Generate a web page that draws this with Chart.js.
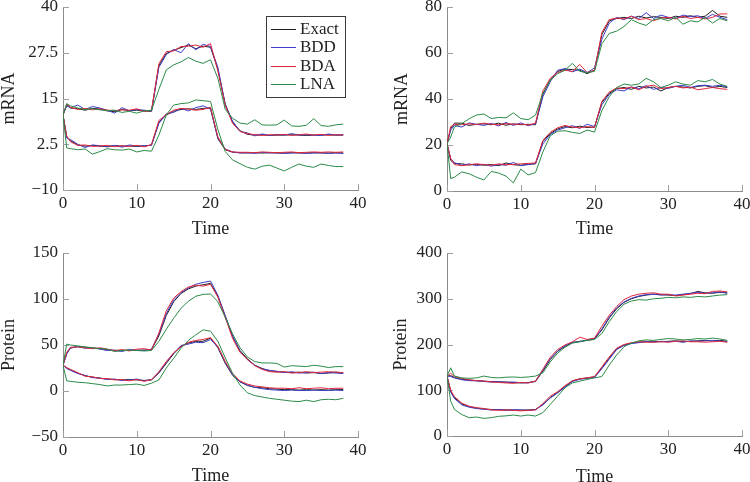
<!DOCTYPE html>
<html>
<head>
<meta charset="utf-8">
<script src="https://cdn.jsdelivr.net/npm/chart.js@4.4.0/dist/chart.umd.min.js"></script>
<style>
  html, body { margin: 0; padding: 0; background: #fff; overflow: hidden; width: 750px; height: 482px; }
  canvas { position: absolute; }
</style>
</head>
<body>
<canvas id="mrnaA" width="375" height="241" style="left:0;top:0;width:375px;height:241px"></canvas>
<canvas id="mrnaB" width="375" height="241" style="left:375px;top:0;width:375px;height:241px"></canvas>
<canvas id="protA" width="375" height="250" style="left:0;top:241px;width:375px;height:250px"></canvas>
<canvas id="protB" width="375" height="250" style="left:375px;top:241px;width:375px;height:250px"></canvas>
<script>
// time grid shared by every series
const time = [0, 0.5, 1, 2, 3, 4, 5, 6, 7, 8, 9, 10, 11, 12, 13, 14, 15, 16, 17, 18,
  19, 20, 21, 22, 23, 24, 25, 26, 27, 28, 29, 30, 31, 32, 33, 34, 35, 36, 37, 38];
const xTicks = [0, 10, 20, 30, 40];
const mrnaTicksA = [-10, 2.5, 15, 27.5, 40];
const mrnaTicksB = [0, 20, 40, 60, 80];
const protTicksA = [-50, 0, 50, 100, 150];
const protTicksB = [0, 100, 200, 300, 400];
const methods = ['Exact', 'BDD', 'BDA', 'LNA'];

// top left: mRNA
const exactHi1 = [10.5, 13.2, 12.4, 12.2, 11.8, 12.3, 12.1, 11.6, 11.4, 12.0,
  11.7, 11.8, 11.6, 11.5, 24.0, 27.3, 28.2, 28.9, 29.6, 28.6,
  29.3, 29.0, 23.0, 13.5, 8.5, 6.2, 5.2, 5.0, 5.1, 4.9,
  5.0, 5.0, 5.1, 5.0, 4.9, 5.0, 5.0, 5.1, 5.0, 5.0];
const bddHi1 = [10.5, 13.0, 12.5, 13.2, 12.0, 12.8, 12.4, 11.8, 11.0, 12.5,
  11.6, 12.0, 11.8, 11.6, 23.5, 27.0, 28.4, 27.5, 30.0, 28.3,
  29.8, 29.2, 23.5, 13.2, 8.8, 6.0, 5.6, 4.8, 5.3, 4.9,
  5.2, 5.0, 5.4, 5.0, 5.1, 5.0, 4.9, 5.3, 5.0, 5.1];
const bdaHi1 = [10.5, 13.5, 12.6, 12.0, 12.3, 11.9, 12.2, 11.8, 11.7, 11.9,
  11.8, 12.2, 11.4, 11.8, 24.5, 27.8, 28.0, 29.2, 29.3, 29.6,
  29.0, 30.0, 22.5, 13.0, 8.2, 6.0, 5.4, 5.1, 4.9, 5.1,
  5.0, 5.2, 4.9, 5.1, 5.3, 5.0, 5.2, 4.9, 5.1, 5.0];
const lnaHi1 = [10.5, 13.6, 13.0, 12.4, 12.0, 12.2, 11.9, 11.7, 11.8, 11.2,
  11.5, 11.0, 11.6, 11.8, 17.5, 22.8, 24.2, 25.0, 26.2, 25.2,
  24.6, 25.6, 20.5, 12.0, 9.6, 8.3, 8.0, 9.2, 7.8, 7.7,
  7.8, 9.1, 7.5, 7.4, 7.7, 9.5, 7.6, 7.4, 7.8, 8.0];
const exactLo1 = [10.5, 4.5, 3.5, 2.3, 2.0, 2.2, 2.0, 1.8, 2.1, 2.0,
  2.0, 1.9, 2.0, 2.3, 8.5, 10.5, 11.5, 12.0, 12.2, 12.0,
  12.3, 12.4, 4.0, 1.0, 0.3, 0.2, 0.1, 0.2, 0.1, 0.2,
  0.1, 0.1, 0.2, 0.1, 0.1, 0.2, 0.1, 0.1, 0.2, 0.1];
const bddLo1 = [10.5, 4.2, 3.8, 2.5, 1.6, 2.3, 2.1, 1.9, 2.2, 1.7,
  2.3, 2.0, 2.1, 2.2, 8.2, 10.8, 11.2, 12.3, 11.6, 12.5,
  13.0, 12.1, 4.3, 1.2, 0.4, 0.1, 0.2, 0.0, 0.3, 0.1,
  0.2, 0.0, 0.1, 0.2, 0.0, 0.1, 0.2, 0.0, 0.1, 0.0];
const bdaLo1 = [10.5, 4.8, 3.2, 2.2, 2.3, 1.9, 2.0, 2.2, 1.8, 2.1,
  1.9, 2.2, 1.8, 2.4, 9.0, 10.6, 11.8, 12.3, 12.1, 11.8,
  12.0, 12.6, 4.5, 1.1, 0.4, 0.3, 0.3, 0.2, 0.4, 0.3,
  0.2, 0.3, 0.4, 0.2, 0.3, 0.4, 0.3, 0.4, 0.3, 0.4];
const lnaLo1 = [10.5, 1.5, 1.3, 1.0, 1.2, -0.2, 0.5, 1.3, 1.0, 0.9,
  1.2, 0.4, 0.8, 0.6, 5.0, 10.5, 13.2, 13.6, 13.8, 14.6,
  14.4, 14.2, 6.5, 0.5, -1.8, -2.8, -3.8, -4.3, -3.5, -3.2,
  -4.0, -4.8, -3.8, -2.9, -3.5, -3.8, -2.9, -3.3, -3.6, -3.6];

// top right: mRNA
const exactHi2 = [20.5, 27.0, 29.5, 29.5, 28.5, 29.0, 29.2, 28.8, 29.5, 28.6,
  29.2, 28.8, 29.0, 28.8, 42.0, 48.5, 52.0, 53.0, 52.8, 52.5,
  51.0, 52.5, 68.0, 74.0, 75.0, 75.5, 75.0, 76.0, 75.2, 75.8,
  75.5, 75.0, 76.0, 75.5, 76.2, 75.5, 76.0, 78.5, 76.0, 75.5];
const bddHi2 = [20.5, 26.5, 28.5, 27.8, 29.6, 29.0, 28.5, 29.4, 28.3, 29.8,
  28.5, 29.6, 28.4, 29.2, 41.0, 47.5, 52.5, 53.2, 51.8, 53.0,
  51.5, 53.5, 66.0, 73.0, 75.5, 74.5, 76.0, 75.0, 77.5, 75.0,
  76.5, 75.5, 75.0, 76.5, 75.8, 76.2, 75.0, 76.8, 75.5, 74.5];
const bdaHi2 = [20.5, 28.0, 29.0, 28.8, 29.2, 28.9, 29.5, 29.0, 28.8, 29.3,
  29.0, 29.1, 28.7, 29.5, 43.5, 49.0, 51.5, 52.5, 52.0, 55.0,
  51.5, 52.5, 69.0, 74.5, 75.2, 74.8, 76.0, 74.5, 75.0, 74.0,
  75.2, 75.5, 74.8, 76.0, 75.0, 75.5, 74.8, 75.5, 77.0, 77.0];
const lnaHi2 = [20.5, 23.5, 27.8, 29.3, 31.4, 33.0, 33.5, 31.5, 32.0, 31.8,
  34.0, 31.5, 31.0, 33.0, 42.5, 48.0, 51.0, 52.5, 55.5, 52.0,
  51.5, 52.0, 64.0, 68.5, 69.5, 71.5, 74.5, 73.0, 72.0, 74.5,
  75.0, 74.0, 75.5, 72.5, 74.0, 73.5, 75.5, 73.0, 75.0, 74.0];
const exactLo2 = [20.5, 13.3, 12.0, 11.8, 11.3, 11.6, 11.2, 11.5, 11.0, 12.2,
  11.4, 11.2, 11.6, 11.8, 21.5, 25.0, 27.0, 28.0, 27.5, 28.2,
  27.6, 27.8, 38.5, 42.5, 44.5, 45.0, 44.2, 45.5, 44.8, 45.2,
  43.5, 45.0, 45.5, 45.2, 44.8, 45.5, 45.8, 45.0, 45.5, 45.0];
const bddLo2 = [20.5, 14.0, 12.3, 11.2, 11.8, 11.0, 11.6, 10.8, 11.5, 11.2,
  12.4, 11.0, 11.5, 12.0, 20.5, 24.5, 26.5, 27.5, 28.4, 27.2,
  29.0, 28.0, 37.5, 42.0, 44.0, 43.5, 45.2, 44.5, 45.8, 44.2,
  45.0, 44.6, 45.5, 46.0, 45.0, 45.8, 46.0, 45.5, 46.0, 45.2];
const bdaLo2 = [20.5, 14.2, 11.5, 11.0, 11.4, 11.8, 11.5, 11.2, 11.8, 11.4,
  11.6, 11.8, 12.0, 12.2, 22.0, 25.5, 27.5, 28.5, 27.8, 27.5,
  28.0, 27.6, 39.0, 43.0, 44.8, 44.5, 45.2, 44.0, 45.5, 46.0,
  44.5, 45.0, 45.5, 44.8, 45.2, 44.0, 44.5, 45.0, 44.5, 44.2];
const lnaLo2 = [20.5, 5.4, 6.0, 8.3, 7.5, 6.0, 4.8, 8.5, 7.8, 6.5,
  3.5, 9.5, 7.0, 8.0, 17.0, 24.0, 26.0, 26.2, 25.5, 25.0,
  26.5, 25.6, 35.0, 41.0, 45.0, 46.5, 46.0, 46.5, 49.0, 47.5,
  45.0, 46.0, 47.5, 46.5, 46.0, 48.0, 47.5, 48.5, 46.5, 45.5];

// bottom left: protein
const exactHi3 = [28, 41, 46.5, 48.5, 47.5, 46.5, 46.0, 45.0, 43.5, 44.0,
  44.5, 44.0, 44.5, 45.0, 60.0, 82.0, 97.0, 106.0, 111.0, 114.0,
  115.5, 117.0, 103.0, 81.0, 59.0, 44.0, 35.0, 28.0, 24.5, 22.0,
  21.0, 20.5, 20.0, 20.5, 19.5, 20.0, 19.0, 19.5, 20.5, 19.5];
const bddHi3 = [28, 40, 47.0, 48.0, 46.5, 47.0, 45.5, 44.0, 44.5, 43.0,
  45.0, 44.5, 44.0, 45.5, 62.0, 84.0, 99.0, 107.0, 112.0, 116.0,
  118.0, 119.5, 104.0, 82.0, 60.0, 43.0, 34.0, 28.0, 24.0, 22.5,
  21.5, 20.0, 21.0, 19.5, 20.0, 20.5, 19.0, 20.0, 19.5, 19.0];
const bdaHi3 = [28, 42, 47.5, 48.0, 47.0, 46.0, 47.0, 45.5, 44.0, 45.0,
  43.5, 45.5, 46.0, 44.5, 63.0, 87.0, 101.0, 108.0, 113.0, 115.0,
  114.0, 116.0, 102.0, 80.0, 57.0, 42.0, 34.5, 27.5, 23.5, 21.0,
  20.5, 21.0, 19.5, 20.0, 21.0, 20.0, 20.5, 21.0, 20.5, 20.0];
const lnaHi3 = [28, 51, 50.0, 49.0, 48.0, 47.0, 46.0, 45.5, 43.0, 44.0,
  44.5, 44.0, 43.5, 44.0, 54.0, 67.0, 79.0, 90.0, 97.5, 103.0,
  105.0, 105.5, 97.0, 80.0, 62.0, 47.0, 37.0, 32.0, 30.5, 30.5,
  30.0, 26.0, 27.5, 27.0, 26.5, 28.0, 27.0, 25.5, 26.5, 26.5];
const exactLo3 = [28, 25, 23.0, 19.5, 16.5, 15.0, 14.0, 13.0, 12.5, 12.0,
  12.5, 12.0, 11.5, 12.0, 19.5, 30.0, 40.5, 48.5, 52.0, 54.0,
  54.0, 57.5, 47.0, 30.0, 17.0, 10.0, 6.0, 4.0, 3.5, 2.5,
  2.0, 1.5, 1.5, 1.0, 1.5, 1.0, 1.5, 1.0, 1.5, 1.5];
const bddLo3 = [28, 24.5, 22.5, 19.0, 17.0, 14.5, 14.0, 12.5, 13.0, 11.5,
  12.0, 13.0, 11.0, 12.5, 20.0, 31.0, 41.0, 49.5, 51.0, 53.0,
  52.5, 56.0, 48.0, 31.0, 17.5, 10.0, 6.5, 4.0, 2.5, 1.5,
  1.0, 0.5, 1.0, 0.5, 0.5, 1.0, 0.5, 0.5, 1.0, 0.5];
const bdaLo3 = [28, 25.5, 23.5, 20.0, 16.0, 15.5, 13.5, 13.5, 12.0, 12.5,
  11.0, 12.5, 10.5, 12.5, 21.0, 32.0, 41.5, 48.0, 53.0, 55.0,
  56.0, 58.0, 48.5, 32.0, 19.0, 11.0, 7.5, 5.5, 4.5, 3.5,
  3.0, 3.0, 2.5, 3.5, 2.5, 3.0, 3.5, 2.5, 3.0, 3.0];
const lnaLo3 = [28, 11, 10.5, 9.5, 9.0, 8.0, 7.0, 5.5, 6.5, 6.5,
  7.0, 7.5, 6.0, 8.5, 12.0, 25.0, 35.5, 46.5, 55.0, 61.0,
  66.5, 65.0, 54.0, 36.0, 19.0, 6.5, -2.0, -5.0, -6.5, -8.0,
  -9.0, -10.0, -11.0, -11.5, -10.0, -11.5, -9.5, -9.0, -9.5, -8.0];

// bottom right: protein
const exactHi4 = [131, 132, 128, 124, 122, 121, 120, 119, 118.5, 118,
  117, 116, 117, 119, 142, 167, 185, 196, 204, 207,
  209, 212, 232, 258, 278, 292, 300, 305, 308, 310,
  309, 308, 307, 309, 311, 316, 313, 312, 314, 313];
const bddHi4 = [131, 130, 127, 123, 121, 120.5, 119, 118, 119, 117,
  118, 116.5, 116, 120, 144, 169, 186, 197, 205, 206,
  210, 213, 234, 260, 280, 293, 301, 306, 309, 310,
  308, 309, 308, 310, 312, 314, 312, 313, 315, 312];
const bdaHi4 = [131, 137, 130, 126, 123, 121, 120, 118, 117, 116,
  115, 117, 116, 120, 146, 172, 189, 199, 206, 216,
  211, 214, 240, 264, 283, 298, 306, 310, 312, 313,
  310, 310, 306, 308, 310, 312, 311, 316, 317, 315];
const lnaHi4 = [131, 149, 131, 127, 126, 127, 131, 128, 127, 128.5,
  129, 128, 129, 131, 138, 162, 181, 194, 203, 206,
  209, 211, 224, 250, 272, 288, 295, 298, 297, 300,
  301, 303, 302, 304, 303, 305, 304, 306, 308, 309];
const exactLo4 = [131, 98, 84, 70, 64, 61, 59, 58, 57.5, 57,
  57, 56.5, 57, 58, 69, 84, 95, 108, 120, 125,
  127, 129, 149, 170, 190, 199, 203, 205, 206, 207,
  206, 207, 208, 206, 207, 208, 209, 208, 209, 207];
const bddLo4 = [131, 96, 82, 68, 63, 60, 58.5, 57, 58, 56,
  57.5, 57, 56, 57.5, 68, 83, 94, 107, 119, 124,
  126, 128, 147, 168, 189, 198, 202, 204, 207, 205,
  207, 206, 207, 205, 208, 207, 208, 209, 208, 206];
const bdaLo4 = [131, 100, 86, 72, 65, 62, 60, 57, 56, 57,
  56, 55, 56, 57, 71, 87, 97, 110, 121, 125,
  127, 130, 151, 173, 192, 200, 204, 206, 205, 205,
  206, 205, 207, 208, 206, 206, 205, 206, 207, 205];
const lnaLo4 = [131, 76, 58, 47, 40, 41.5, 38.5, 40, 43, 44,
  45.8, 43.6, 45.8, 43.6, 51, 69, 87, 105.5, 116, 120,
  123.6, 127, 130, 155, 177, 195, 203, 208, 210, 209,
  211, 213, 212, 210, 211, 213, 212, 214, 212, 209];

const lineColors = { Exact: '#1e1e1e', BDD: '#3c3cc8', BDA: '#e3263a', LNA: '#2a8a48' };
const serif = '"Liberation Serif", "Times New Roman", serif';
const axisGrey = '#8c8c8c';
const textColor = '#222';

function pts(values) {
  return values.map((v, i) => ({ x: time[i], y: v }));
}

// pgfplots style ticks pointing into the plot
const tickMarks = {
  id: 'tickMarks',
  beforeDatasetsDraw(chart) {
    const { ctx, chartArea: a, scales: { x, y } } = chart;
    ctx.save();
    ctx.strokeStyle = '#a0a0a0';
    ctx.lineWidth = 1;
    ctx.beginPath();
    x.ticks.forEach(t => {
      const px = Math.round(x.getPixelForValue(t.value)) + 0.5;
      ctx.moveTo(px, a.bottom);
      ctx.lineTo(px, a.bottom - 6);
    });
    y.ticks.forEach(t => {
      const py = Math.round(y.getPixelForValue(t.value)) + 0.5;
      ctx.moveTo(a.left, py);
      ctx.lineTo(a.left + 6, py);
    });
    ctx.stroke();
    ctx.restore();
  }
};

const boxLegend = {
  id: 'boxLegend',
  afterDraw(chart) {
    const { ctx, chartArea: a } = chart;
    const x0 = Math.round(a.right - 92), y0 = Math.round(a.top + 9), w = 79, h = 81;
    ctx.save();
    ctx.fillStyle = '#fff';
    ctx.fillRect(x0, y0, w, h);
    ctx.strokeStyle = '#3a3a3a';
    ctx.lineWidth = 1;
    ctx.strokeRect(x0 + 0.5, y0 + 0.5, w, h);
    ctx.font = '17px ' + serif;
    ctx.textBaseline = 'middle';
    methods.forEach((m, i) => {
      const cy = Math.round(y0 + 13 + i * 18.3) + 0.5;
      ctx.strokeStyle = lineColors[m];
      ctx.beginPath();
      ctx.moveTo(x0 + 5, cy);
      ctx.lineTo(x0 + 30, cy);
      ctx.stroke();
      ctx.fillStyle = textColor;
      ctx.fillText(m, x0 + 34, cy);
    });
    ctx.restore();
  }
};

function makeChart(id, cfg) {
  const datasets = [];
  // first dataset is painted last, so LNA ends on top
  ['LNA', 'BDA', 'BDD', 'Exact'].forEach(m => {
    cfg.series[m].forEach(vals => {
      datasets.push({
        label: m, data: pts(vals), borderColor: lineColors[m],
        borderWidth: 1, pointRadius: 0, tension: 0, fill: false
      });
    });
  });
  return new Chart(document.getElementById(id), {
    type: 'line',
    data: { datasets },
    options: {
      responsive: false,
      animation: false,
      devicePixelRatio: 1,
      layout: { padding: { left: cfg.padLeft, right: cfg.padRight, top: cfg.padTop, bottom: 0 } },
      plugins: { legend: { display: false }, tooltip: { enabled: false } },
      scales: {
        x: {
          type: 'linear', min: 0, max: 40,
          afterBuildTicks: s => { s.ticks = xTicks.map(v => ({ value: v })); },
          afterFit: s => { s.height = cfg.xHeight; s.paddingLeft = 0; s.paddingRight = 0; },
          grid: { display: false, drawTicks: false },
          border: { color: axisGrey, width: 1 },
          ticks: { color: textColor, font: { family: serif, size: 17 }, padding: 3, maxRotation: 0, autoSkip: false },
          title: { display: true, text: 'Time', color: textColor,
            font: { family: serif, size: 18, lineHeight: 1 }, padding: { top: 0, bottom: cfg.timePad } }
        },
        y: {
          type: 'linear', min: cfg.yTicks[0], max: cfg.yTicks[cfg.yTicks.length - 1],
          afterBuildTicks: s => { s.ticks = cfg.yTicks.map(v => ({ value: v })); },
          afterFit: s => { s.width = cfg.yWidth; s.paddingTop = 0; s.paddingBottom = 0; },
          grid: { display: false, drawTicks: false },
          border: { color: axisGrey, width: 1 },
          ticks: { color: textColor, font: { family: serif, size: 17 }, padding: 5,
            callback: v => String(v).replace('-', '\u2212') },
          title: { display: true, text: cfg.yTitle, color: textColor,
            font: { family: serif, size: 18, lineHeight: 1 }, padding: { top: 0, bottom: 0 } }
        }
      }
    },
    plugins: cfg.legend ? [tickMarks, boxLegend] : [tickMarks]
  });
}

makeChart('mrnaA', {
  yTitle: 'mRNA', yTicks: mrnaTicksA, legend: true,
  padLeft: 0, padRight: 17, padTop: 7, yWidth: 63, xHeight: 51, timePad: 3,
  series: { Exact: [exactHi1, exactLo1], BDD: [bddHi1, bddLo1], BDA: [bdaHi1, bdaLo1], LNA: [lnaHi1, lnaLo1] }
});
makeChart('mrnaB', {
  yTitle: 'mRNA', yTicks: mrnaTicksB, legend: false,
  padLeft: 18, padRight: 8, padTop: 7, yWidth: 54, xHeight: 50, timePad: 3,
  series: { Exact: [exactHi2, exactLo2], BDD: [bddHi2, bddLo2], BDA: [bdaHi2, bdaLo2], LNA: [lnaHi2, lnaLo2] }
});
makeChart('protA', {
  yTitle: 'Protein', yTicks: protTicksA, legend: false,
  padLeft: 0, padRight: 17, padTop: 12, yWidth: 63, xHeight: 54, timePad: 6,
  series: { Exact: [exactHi3, exactLo3], BDD: [bddHi3, bddLo3], BDA: [bdaHi3, bdaLo3], LNA: [lnaHi3, lnaLo3] }
});
makeChart('protB', {
  yTitle: 'Protein', yTicks: protTicksB, legend: false,
  padLeft: 17, padRight: 8, padTop: 12, yWidth: 55, xHeight: 55, timePad: 5,
  series: { Exact: [exactHi4, exactLo4], BDD: [bddHi4, bddLo4], BDA: [bdaHi4, bdaLo4], LNA: [lnaHi4, lnaLo4] }
});
</script>
</body>
</html>
